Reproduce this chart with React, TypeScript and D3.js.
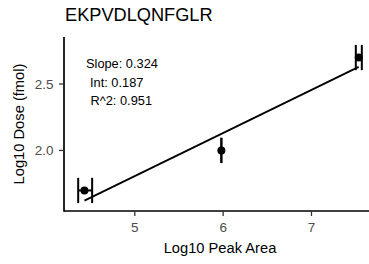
import React from "react";
import * as d3 from "d3";

// --- data ---
const peptide = "EKPVDLQNFGLR";
const logArea = [4.43, 5.98, 7.535];
const logDose = [1.699, 2.0, 2.699];
const areaLo = [4.359, 5.98, 7.502];
const areaHi = [4.517, 5.98, 7.57];
const fitSlope = 0.324;
const fitInt = 0.187;
const fitR2 = 0.951;
const xTicks = [5, 6, 7];
const yTicks = [2.0, 2.5];

const W = 369;
const H = 264;
const margin = { top: 37, right: -7, bottom: 53, left: 64 };
const capHalf = 0.095; // errorbar cap half-height, data units
const font = "'Liberation Sans', Arial, Helvetica, sans-serif";

// ggplot-like 5% expansion
function expand([lo, hi]: [number, number]): [number, number] {
  const pad = (hi - lo) * 0.05;
  return [lo - pad, hi + pad];
}

export default function App() {
  const x = d3
    .scaleLinear()
    .domain(expand([d3.min(areaLo)!, d3.max(areaHi)!]))
    .range([margin.left, W - margin.right]);

  const y = d3
    .scaleLinear()
    .domain(expand([d3.min(logDose)! - capHalf, d3.max(logDose)! + capHalf]))
    .range([H - margin.bottom, margin.top]);

  const x0 = d3.min(logArea)!;
  const x1 = d3.max(logArea)!;
  const fitLine = d3
    .line<number>()
    .x(d => x(d))
    .y(d => y(fitInt + fitSlope * d));

  const bottom = H - margin.bottom;
  const left = margin.left;

  return (
    <svg
      width={W}
      height={H}
      style={{ position: "absolute", left: 0, top: 0, background: "#fff" }}
      fontFamily={font}
    >
      {/* title */}
      <text x={65} y={21} fontSize={18.2} fill="#000">
        {peptide}
      </text>

      {/* fit line */}
      <path d={fitLine([x0, x1]) || ""} fill="none" stroke="#000" strokeWidth={1.8} />

      {/* horizontal error bars with caps */}
      {logArea.map((_, i) => (
        <g key={"eb" + i} stroke="#000" strokeWidth={2}>
          <line x1={x(areaLo[i])} x2={x(areaHi[i])} y1={y(logDose[i])} y2={y(logDose[i])} />
          <line x1={x(areaLo[i])} x2={x(areaLo[i])} y1={y(logDose[i] - capHalf)} y2={y(logDose[i] + capHalf)} />
          <line x1={x(areaHi[i])} x2={x(areaHi[i])} y1={y(logDose[i] - capHalf)} y2={y(logDose[i] + capHalf)} />
        </g>
      ))}

      {/* points */}
      {logArea.map((a, i) => (
        <circle key={"pt" + i} cx={x(a)} cy={y(logDose[i])} r={4} fill="#000" />
      ))}

      {/* fit annotation */}
      <g fontSize={12.8} fill="#000">
        <text x={86} y={67.5}>{`Slope: ${fitSlope.toFixed(3)}`}</text>
        <text x={90} y={86.5}>{`Int: ${fitInt.toFixed(3)}`}</text>
        <text x={90.5} y={105}>{`R^2: ${fitR2.toFixed(3)}`}</text>
      </g>

      {/* axes */}
      <line x1={left} x2={W} y1={bottom} y2={bottom} stroke="#000" strokeWidth={1.7} />
      <line x1={left} x2={left} y1={margin.top} y2={bottom + 0.85} stroke="#000" strokeWidth={1.7} />

      {xTicks.map(t => (
        <g key={"xt" + t}>
          <line x1={x(t)} x2={x(t)} y1={bottom} y2={bottom + 5} stroke="#333" strokeWidth={1.3} />
          <text x={x(t)} y={232} textAnchor="middle" fontSize={13.5} fill="#4D4D4D">
            {d3.format("d")(t)}
          </text>
        </g>
      ))}

      {yTicks.map(t => (
        <g key={"yt" + t}>
          <line x1={left - 5} x2={left} y1={y(t)} y2={y(t)} stroke="#333" strokeWidth={1.3} />
          <text x={53.5} y={y(t) + 4.8} textAnchor="end" fontSize={13.5} fill="#4D4D4D">
            {d3.format(".1f")(t)}
          </text>
        </g>
      ))}

      {/* axis titles */}
      <text x={(left + W - margin.right) / 2} y={252.5} textAnchor="middle" fontSize={14.7} fill="#000">
        Log10 Peak Area
      </text>
      <text
        transform={`translate(23.5,${(margin.top + bottom) / 2}) rotate(-90)`}
        textAnchor="middle"
        fontSize={14.7}
        fill="#000"
      >
        Log10 Dose (fmol)
      </text>
    </svg>
  );
}
